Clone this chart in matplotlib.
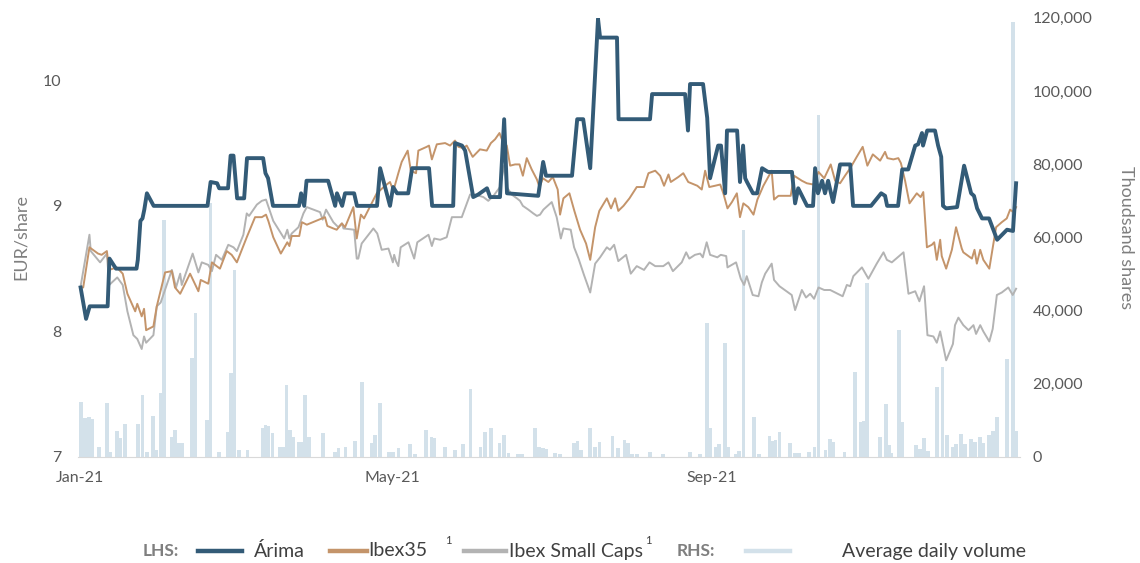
import matplotlib
matplotlib.use("Agg")
import matplotlib.pyplot as plt
import matplotlib.dates as mdates
from matplotlib.lines import Line2D
from matplotlib.ticker import FuncFormatter
import numpy as np

plt.rcParams['font.family'] = ['Lato', 'DejaVu Sans']

# days counted from 1 Jan 2021, prices in EUR/share
arima_day = [0.2, 2.3, 3.7, 10.6, 11.3, 13.8, 21.7, 22.2, 23.2, 24.0, 24.7, 25.7, 28.3, 49.0, 50.2,
             52.7, 53.5, 56.9, 57.9, 59.0, 60.4, 63.1, 64.2, 70.4, 71.3, 72.3, 74.2, 84.2, 85.0, 86.2,
             87.1, 95.4, 98.1, 98.8, 100.8, 101.9, 105.4, 106.5, 114.2, 115.4, 119.2, 120.4, 121.9,
             126.2, 127.7, 134.2, 135.4, 143.5, 144.2, 146.9, 148.1, 151.2, 153.1, 156.5, 157.7, 161.5,
             163.1, 164.2, 176.2, 178.1, 179.2, 189.2, 191.2, 193.5, 196.2, 199.2, 200.0, 206.5, 207.1,
             219.2, 220.0, 232.7, 233.8, 234.6, 239.6, 241.2, 242.3, 245.4, 246.5, 248.1, 248.8, 252.7,
             253.8, 255.0, 255.8, 256.5, 258.8, 260.4, 262.3, 264.6, 273.8, 275.0, 276.2, 279.6, 281.9,
             282.7, 283.8, 285.4, 286.5, 287.7, 289.6, 292.3, 296.2, 297.3, 304.2, 308.1, 309.6, 310.4,
             314.6, 316.2, 318.5, 321.2, 322.3, 323.8, 324.2, 325.8, 328.8, 330.0, 331.2, 331.9, 333.1,
             337.3, 340.0, 342.7, 343.8, 345.0, 346.9, 349.6, 352.7, 356.5, 358.8, 360.0]
arima = [8.35, 8.10, 8.20, 8.20, 8.58, 8.50, 8.50, 8.57, 8.88, 8.90, 8.97, 9.10, 9.00, 9.00, 9.19,
         9.18, 9.14, 9.14, 9.40, 9.40, 9.06, 9.06, 9.38, 9.38, 9.26, 9.22, 9.00, 9.00, 9.10, 9.00,
         9.20, 9.20, 9.00, 9.10, 9.00, 9.10, 9.10, 9.00, 9.00, 9.30, 9.00, 9.15, 9.10,
         9.10, 9.30, 9.30, 9.00, 9.00, 9.50, 9.48, 9.44, 9.07, 9.09, 9.14, 9.07, 9.07,
         9.69, 9.10, 9.08, 9.35, 9.24, 9.24, 9.69, 9.69, 9.30, 10.49, 10.34, 10.34, 9.69,
         9.69, 9.89, 9.89, 9.60, 9.97, 9.97, 9.70, 9.22, 9.48, 9.48, 9.10, 9.60, 9.60,
         9.19, 9.48, 9.22, 9.19, 9.10, 9.10, 9.30, 9.27, 9.27, 9.02, 9.14, 9.00, 9.00,
         9.30, 9.10, 9.20, 9.10, 9.20, 9.03, 9.33, 9.33, 9.00, 9.00, 9.10, 9.08, 9.00,
         9.00, 9.29, 9.29, 9.48, 9.49, 9.58, 9.48, 9.60, 9.60, 9.48, 9.39, 9.00, 8.98,
         8.99, 9.32, 9.10, 9.08, 8.98, 8.90, 8.90, 8.73, 8.81, 8.80, 9.18]

ibex_day = [0.3, 1.2, 3.6, 6.9, 8.3, 10.3, 11.2, 14.1, 16.4, 18.2, 21.2, 22.0, 23.7, 24.6, 25.4, 28.2,
            29.5, 32.7, 35.3, 36.5, 38.5, 42.3, 45.5, 46.4, 49.3, 50.7, 51.9, 53.8, 56.4, 58.3, 60.3,
            64.1, 67.3, 69.9, 71.5, 72.4, 74.3, 77.2, 79.7, 80.5, 81.4, 84.3, 85.3, 87.2, 94.2, 95.1,
            97.4, 98.7, 100.7, 101.9, 105.1, 106.4, 108.0, 109.2, 114.1, 117.3, 119.2, 120.5, 122.4,
            123.7, 126.0, 127.2, 129.2, 130.1, 133.3, 134.2, 135.3, 137.2, 140.4, 142.3, 144.2, 145.5,
            147.4, 148.7, 151.0, 153.8, 156.4, 158.0, 159.6, 161.3, 162.6, 164.1, 165.4, 167.3, 169.0,
            170.3, 171.8, 173.7, 175.7, 176.7, 178.0, 180.1, 181.8, 183.7, 184.6, 185.9, 188.2, 190.1,
            192.3, 194.6, 196.2, 198.1, 199.7, 202.6, 204.2, 205.8, 207.0, 209.0, 211.3, 214.1, 216.9,
            218.6, 221.2, 223.1, 224.6, 226.3, 227.2, 230.1, 232.0, 233.9, 237.4, 239.1, 240.4, 242.0,
            244.2, 246.2, 247.4, 249.0, 250.7, 252.6, 253.8, 255.1, 257.0, 259.0, 260.5, 262.8, 266.0,
            266.9, 268.6, 273.3, 274.6, 277.6, 279.5, 282.0, 284.0, 286.2, 288.7, 290.4, 292.3, 294.2,
            296.2, 298.7, 301.0, 302.8, 304.9, 307.7, 309.6, 310.5, 312.8, 314.7, 315.7, 317.3, 319.0,
            321.8, 323.3, 324.3, 325.7, 327.6, 328.5, 329.5, 330.8, 331.4, 333.1, 335.3, 336.9, 339.1,
            339.7, 342.3, 343.0, 344.0, 344.9, 346.2, 347.4, 349.7, 352.3, 354.5, 356.4, 357.7, 359.0,
            360.0]
ibex = [8.35, 8.35, 8.67, 8.62, 8.61, 8.64, 8.49, 8.51, 8.46, 8.30, 8.16, 8.22, 8.12, 8.18, 8.01, 8.04,
        8.20, 8.47, 8.48, 8.35, 8.30, 8.46, 8.32, 8.41, 8.38, 8.55, 8.53, 8.50, 8.64, 8.61, 8.55,
        8.75, 8.91, 8.91, 8.93, 8.88, 8.75, 8.62, 8.71, 8.68, 8.76, 8.76, 8.87, 8.85, 8.91, 8.84,
        8.82, 8.81, 8.86, 8.83, 8.99, 8.74, 8.93, 8.90, 9.10, 9.16, 9.19, 9.12, 9.26,
        9.35, 9.44, 9.28, 9.26, 9.44, 9.47, 9.48, 9.37, 9.49, 9.50, 9.48, 9.52, 9.47,
        9.46, 9.48, 9.39, 9.45, 9.44, 9.50, 9.53, 9.58, 9.51, 9.48, 9.32, 9.33, 9.33,
        9.24, 9.38, 9.29, 9.21, 9.15, 9.22, 9.19, 9.23, 9.13, 8.93, 9.06, 9.10, 8.96,
        8.81, 8.70, 8.57, 8.83, 8.96, 9.06, 8.98, 9.06, 8.96, 9.00, 9.06, 9.15, 9.15,
        9.26, 9.28, 9.24, 9.16, 9.25, 9.19, 9.23, 9.26, 9.19, 9.16, 9.13, 9.28, 9.15,
        9.16, 9.17, 9.10, 8.98, 9.03, 9.10, 8.91, 9.02, 8.99, 8.93, 9.05, 9.16, 9.28,
        9.05, 9.08, 9.08, 9.24, 9.20, 9.18, 9.17, 9.27, 9.22, 9.33, 9.20, 9.18, 9.24,
        9.30, 9.39, 9.47, 9.32, 9.41, 9.36, 9.43, 9.38, 9.37, 9.38, 9.34, 9.20, 9.02,
        9.10, 9.07, 9.11, 8.67, 8.69, 8.71, 8.57, 8.73, 8.60, 8.50, 8.65, 8.83, 8.66,
        8.63, 8.59, 8.58, 8.65, 8.54, 8.65, 8.57, 8.50, 8.83, 8.87, 8.90, 8.97, 8.95,
        8.99]

small_day = [0.3, 3.6, 4.1, 7.7, 10.3, 11.2, 14.3, 16.4, 18.2, 20.5, 22.0, 23.7, 24.6, 25.4, 28.2,
             29.5, 31.0, 35.3, 36.9, 38.5, 39.1, 43.3, 45.5, 46.8, 49.3, 50.7, 52.3, 54.5, 57.0, 59.0,
             60.3, 62.8, 64.1, 65.0, 68.0, 69.9, 71.5, 74.3, 76.7, 78.5, 79.7, 80.5, 81.4, 84.0, 85.9,
             87.2, 92.3, 93.3, 94.6, 97.4, 99.3, 100.7, 101.3, 105.4, 106.4, 107.0, 108.3, 112.8, 114.3,
             116.0, 118.6, 120.3, 120.8, 121.5, 122.4, 123.3, 126.3, 128.5, 129.7, 134.0, 135.3, 136.2,
             138.5, 141.0, 143.0, 144.9, 146.8, 150.0, 151.9, 155.1, 157.0, 159.0, 161.5, 163.1, 164.1,
             166.0, 168.0, 169.2, 170.3, 172.4, 174.3, 175.7, 176.9, 178.2, 181.4, 183.3, 184.9, 185.9,
             188.7, 190.0, 191.7, 193.8, 196.2, 198.1, 200.0, 202.6, 203.8, 205.4, 207.0, 210.0, 211.8,
             214.1, 216.9, 219.0, 221.2, 224.3, 226.3, 228.0, 231.4, 233.1, 234.3, 236.5, 238.5, 239.5,
             241.0, 242.3, 245.1, 246.4, 248.5, 249.0, 252.3, 254.1, 255.4, 256.4, 258.7, 260.9, 262.2,
             263.5, 266.0, 266.9, 269.0, 272.4, 273.7, 275.0, 277.6, 279.2, 280.8, 282.3, 284.0, 286.2,
             288.5, 290.4, 293.3, 294.9, 296.2, 297.4, 300.7, 303.2, 306.4, 309.0, 310.3, 312.2, 316.7,
             318.6, 321.2, 322.8, 324.6, 325.9, 328.2, 329.5, 330.8, 333.1, 335.7, 336.5, 337.8, 339.7,
             341.7, 343.6, 344.6, 346.2, 347.4, 349.7, 351.0, 352.6, 354.5, 357.0, 358.7, 360.0]
small = [8.37, 8.77, 8.64, 8.55, 8.62, 8.37, 8.43, 8.37, 8.16, 7.97, 7.94, 7.86, 7.96, 7.91, 7.97,
         8.20, 8.23, 8.49, 8.35, 8.46, 8.37, 8.62, 8.47, 8.55, 8.53, 8.48, 8.61, 8.57, 8.69, 8.67,
         8.64, 8.77, 8.94, 8.92, 9.01, 9.04, 9.05, 8.88, 8.80, 8.74, 8.81, 8.74, 8.78, 8.83, 8.94,
         8.99, 8.95, 8.89, 8.97, 8.87, 8.83, 8.86, 8.82, 8.81, 8.58, 8.58, 8.70, 8.82, 8.78,
         8.65, 8.66, 8.55, 8.61, 8.56, 8.52, 8.67, 8.71, 8.58, 8.71, 8.77, 8.68, 8.74,
         8.73, 8.75, 8.91, 8.91, 8.91, 9.09, 9.09, 9.07, 9.04, 9.08, 9.15, 9.32, 9.15,
         9.09, 9.06, 9.04, 9.00, 8.97, 8.94, 8.92, 8.93, 8.97, 9.03, 8.91, 8.74, 8.82,
         8.81, 8.67, 8.58, 8.45, 8.31, 8.54, 8.59, 8.67, 8.65, 8.69, 8.56, 8.61, 8.46,
         8.52, 8.49, 8.55, 8.52, 8.52, 8.55, 8.48, 8.55, 8.63, 8.58, 8.61, 8.62, 8.59,
         8.71, 8.61, 8.59, 8.61, 8.60, 8.51, 8.55, 8.42, 8.37, 8.44, 8.29, 8.28, 8.39,
         8.46, 8.54, 8.41, 8.36, 8.31, 8.29, 8.17, 8.33, 8.27, 8.30, 8.26, 8.35, 8.33,
         8.33, 8.31, 8.28, 8.37, 8.36, 8.44, 8.51, 8.42, 8.54, 8.63, 8.57, 8.55, 8.63,
         8.30, 8.32, 8.24, 8.36, 7.97, 7.96, 7.91, 8.00, 7.77, 7.90, 8.05, 8.11, 8.05,
         8.01, 8.05, 7.98, 8.05, 8.00, 7.92, 8.02, 8.29, 8.31, 8.35, 8.29, 8.34]

# average daily volume, thousand shares
vol_day = [0.4, 1.9, 3.3, 4.6, 7.3, 10.4, 11.7, 14.2, 15.4, 17.3, 22.3, 24.0, 25.6, 28.1, 29.4, 31.0,
           32.3, 35.2, 36.5, 37.9, 39.2, 43.1, 44.4, 48.8, 50.2, 53.3, 56.9, 57.9, 59.4, 61.0, 64.4,
           70.4, 71.3, 72.5, 74.0, 76.7, 77.9, 79.4, 80.6, 81.9, 84.0, 85.0, 86.5, 87.9, 93.3, 98.1,
           99.4, 102.1, 105.8, 108.3, 112.1, 113.5, 115.4, 118.8, 120.4, 122.5, 126.9, 128.8, 132.9,
           135.2, 136.3, 140.4, 144.2, 147.3, 150.2, 154.0, 155.8, 157.9, 161.3, 162.9, 164.8, 168.5,
           170.0, 175.0, 176.5, 177.9, 179.2, 182.7, 184.6, 190.0, 191.3, 192.7, 196.0, 198.1, 199.8,
           204.8, 206.9, 209.4, 210.8, 212.3, 214.2, 219.2, 224.2, 234.6, 238.5, 241.2, 242.5, 244.4,
           245.6, 247.9, 249.4, 252.3, 253.5, 255.2, 259.2, 261.2, 265.2, 266.3, 267.5, 269.0, 272.9,
           275.0, 276.5, 280.4, 282.5, 284.0, 286.7, 288.3, 289.6, 294.0, 298.1, 300.2, 301.3, 302.7,
           307.7, 310.0, 311.3, 312.1, 315.0, 316.2, 321.5, 323.1, 324.6, 326.2, 329.6, 331.7, 333.3,
           335.8, 336.9, 338.7, 340.2, 342.7, 344.2, 346.0, 347.3, 349.6, 351.2, 352.7, 356.5, 358.7,
           360.0]
volume = [15100, 10600, 10800, 10400, 2800, 14700, 1500, 7200, 5100, 9000, 9000, 17000, 1500, 11200,
          2000, 17400, 64700, 5600, 7400, 3700, 3700, 27000, 39300, 10000, 69400, 1500, 6900, 22900,
          51100, 1900, 1900, 7800, 8700, 8400, 6500, 2800, 2800, 19700, 7400, 5600, 4200, 4200, 17000,
          5600, 6500, 1500, 2400, 2800, 4500, 20600, 3700, 6000, 14700, 1500, 1500, 2400, 3600, 800,
          7400, 5600, 5300, 2600, 1900, 3600, 18500, 2600, 6900, 7800, 3700, 6000, 1000, 800, 800,
          7800, 2600, 2400, 2200, 1000, 900, 3700, 4500, 1900, 7800, 2800, 4200, 5700, 2400, 4600,
          3900, 800, 800, 1500, 800, 1500, 800, 36700, 7800, 2800, 3500, 31200, 2800, 800, 1700,
          61900, 11000, 900, 5700, 4500, 4600, 6900, 3700, 1000, 1000, 1500, 2800, 93500, 1900,
          4800, 4000, 1500, 23100, 9600, 9800, 47600, 5400, 14500, 3300, 1100, 34600, 9600, 3300,
          2100, 5100, 1700, 19000, 24700, 6000, 2800, 3600, 6300, 3600, 4800, 4200, 5600, 3700, 6000,
          7200, 11000, 26700, 119000, 7200]

start = mdates.date2num(np.datetime64('2021-01-01'))

fig = plt.figure(figsize=(11.4, 5.63), dpi=100)
ax = fig.add_axes([78 / 1140, 1 - 457 / 563, 942 / 1140, 439.5 / 563])
ax2 = ax.twinx()
ax.set_zorder(ax2.get_zorder() + 1)
ax.patch.set_visible(False)

ax2.bar(start + np.array(vol_day), volume, width=1.45, color='#d3e1ea', linewidth=0)
ax.plot(start + np.array(small_day), small, color='#b3b3b3', lw=1.4)
ax.plot(start + np.array(ibex_day), ibex, color='#c4946a', lw=1.4)
ax.plot(start + np.array(arima_day), arima, color='#335b77', lw=2.8)

ax.set_xlim(start - 0.8, start + 361.5)
ax.set_ylim(7, 10.5)
ax2.set_ylim(0, 120100)
ax.set_yticks([7, 8, 9, 10])
ax2.set_yticks(range(0, 120001, 20000))
ax2.yaxis.set_major_formatter(FuncFormatter(lambda v, p: f"{int(v):,}"))
ax.xaxis.set_major_locator(mdates.MonthLocator(bymonth=[1, 5, 9]))
ax.xaxis.set_major_formatter(mdates.DateFormatter('%b-%y'))

for a in (ax, ax2):
    for s in a.spines.values():
        s.set_visible(False)
    a.tick_params(length=0, labelsize=11.5, labelcolor='#595959')
ax2.spines['bottom'].set_visible(True)
ax2.spines['bottom'].set_color('#d9d9d9')
ax.tick_params(axis='y', pad=12)
ax.tick_params(axis='x', pad=10)
ax2.tick_params(axis='y', pad=9)

ax.set_ylabel('EUR/share', fontsize=13, color='#7f7f7f', labelpad=10)
ax2.set_ylabel('Thoudsand shares', fontsize=13, color='#7f7f7f', rotation=270, labelpad=30)

# legend drawn by hand along the bottom
ly = 1 - 551 / 563
tc = '#404040'
fig.text(143 / 1140, ly, 'LHS:', fontsize=12.5, color='#7f7f7f', fontweight='bold', va='center')
fig.text(677 / 1140, ly, 'RHS:', fontsize=12.5, color='#7f7f7f', fontweight='bold', va='center')
for x0, x1, col in [(198, 242, '#335b77'), (330, 367, '#c4946a'), (464, 506, '#b3b3b3'),
                    (746, 790, '#d3e1ea')]:
    fig.add_artist(Line2D([x0 / 1140, x1 / 1140], [ly, ly], color=col, lw=3.2))
fig.text(254 / 1140, ly, 'Árima', fontsize=14, color=tc, va='center')
fig.text(368 / 1140, ly, 'Ibex35', fontsize=14, color=tc, va='center')
fig.text(445 / 1140, 1 - 540 / 563, '1', fontsize=8, color=tc, va='center')
fig.text(509 / 1140, ly, 'Ibex Small Caps', fontsize=14, color=tc, va='center')
fig.text(645 / 1140, 1 - 540 / 563, '1', fontsize=8, color=tc, va='center')
fig.text(842 / 1140, ly, 'Average daily volume', fontsize=14, color=tc, va='center')

fig.savefig('out.png', dpi=100)
